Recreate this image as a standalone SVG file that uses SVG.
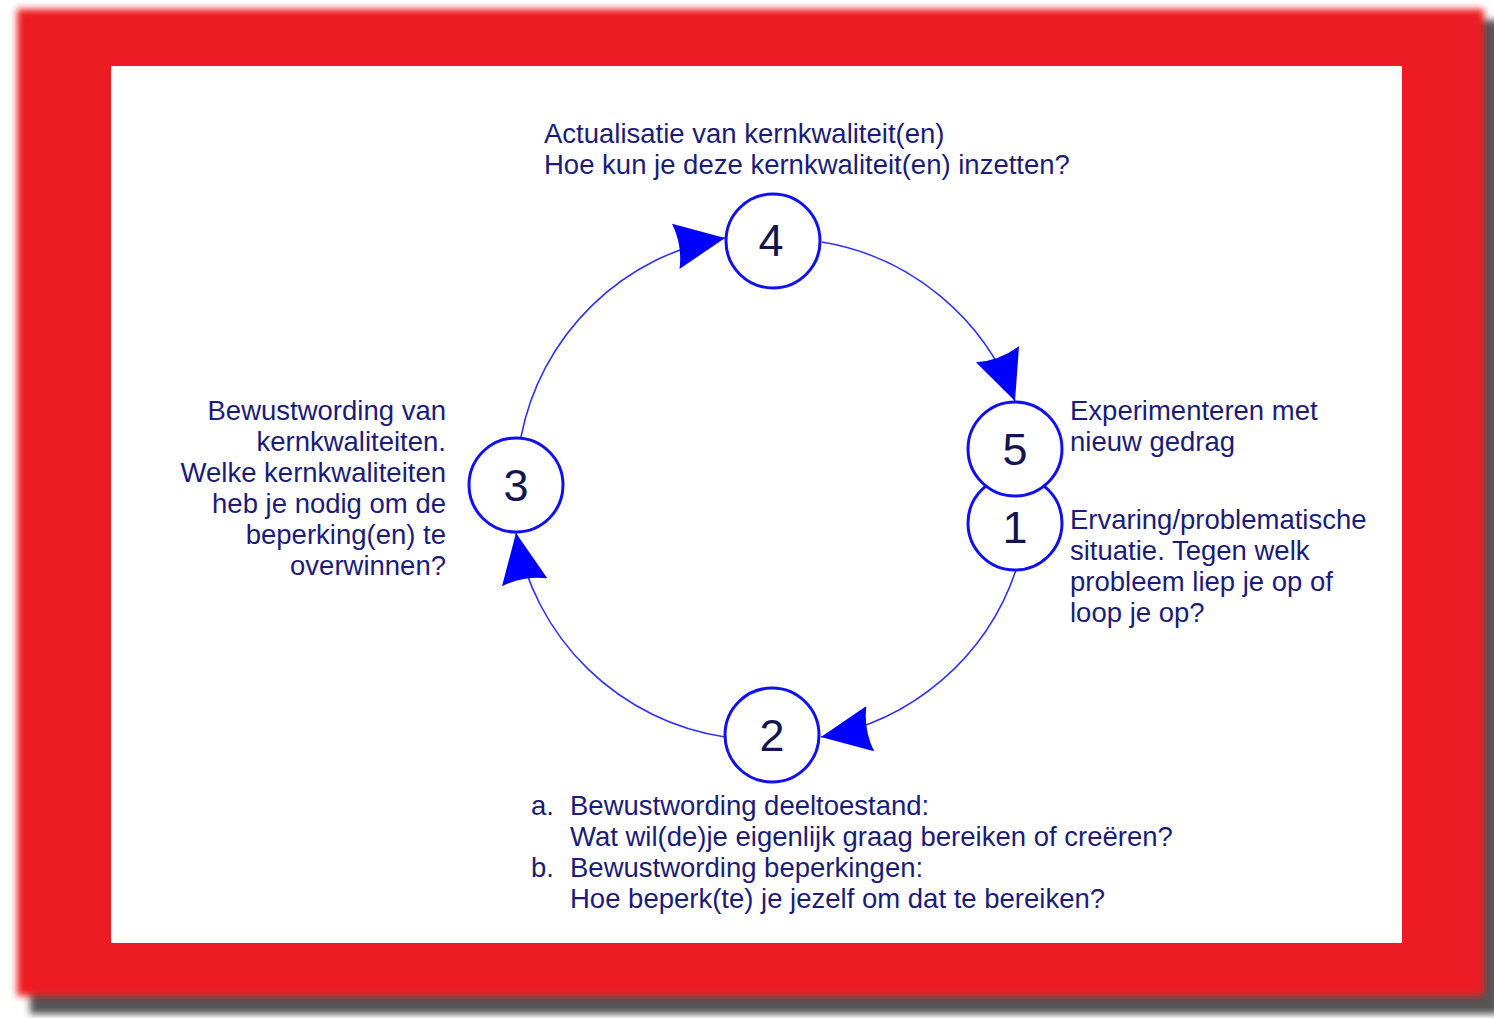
<svg xmlns="http://www.w3.org/2000/svg" width="1494" height="1018" viewBox="0 0 1494 1018">
<defs>
<style>
.t{font-family:"Liberation Sans",Arial,sans-serif;font-size:27.5px;fill:#1c1c78}
.n{font-family:"Liberation Sans",Arial,sans-serif;font-size:45px;fill:#141450;text-anchor:middle}
.node circle{fill:#fff;stroke:#1010f0;stroke-width:3}
.edge{fill:none;stroke:#3030ff;stroke-width:1.6}
</style>
<filter id="blur" x="-5%" y="-5%" width="110%" height="110%"><feGaussianBlur stdDeviation="3.5"/></filter>
<filter id="blur2" x="-5%" y="-5%" width="110%" height="110%"><feGaussianBlur stdDeviation="3.5"/></filter>
<marker id="arr" markerUnits="userSpaceOnUse" markerWidth="54" markerHeight="50" refX="50" refY="23" orient="auto" viewBox="0 0 54 50">
<path d="M0,0 L50,23 L0,46 Q7,23 0,0 z" fill="#0000ff"/>
</marker>
</defs>
<rect x="0" y="0" width="1494" height="1018" fill="#fff"/>
<rect x="30" y="20" width="1470" height="994" fill="#555" filter="url(#blur)"/>
<rect x="17" y="9" width="1467" height="987" fill="#ed1c24" filter="url(#blur2)"/>
<rect x="111" y="66" width="1291" height="877" fill="#fff"/>

<g id="connectors">
<path class="edge" d="M822,242 A250,250 0 0 1 1015,401" marker-end="url(#arr)"/>
<path class="edge" d="M1016,570 A250,250 0 0 1 821,737" marker-end="url(#arr)"/>
<path class="edge" d="M725,737 A250,250 0 0 1 516,533" marker-end="url(#arr)"/>
<path class="edge" d="M521,437 A250,250 0 0 1 725,238" marker-end="url(#arr)"/>
</g>

<g id="node1" class="node"><circle cx="1015" cy="523" r="47"/><text class="n" x="1015" y="543">1</text></g>
<g id="node5" class="node"><circle cx="1015" cy="449" r="47"/><text class="n" x="1015" y="465">5</text></g>
<g id="node4" class="node"><circle cx="773" cy="241" r="47"/><text class="n" x="771" y="256">4</text></g>
<g id="node3" class="node"><circle cx="516" cy="485" r="47"/><text class="n" x="516" y="501">3</text></g>
<g id="node2" class="node"><circle cx="772" cy="735" r="47"/><text class="n" x="772" y="751">2</text></g>

<g id="label4">
<text class="t" x="544" y="143">Actualisatie van kernkwaliteit(en)</text>
<text class="t" x="544" y="174">Hoe kun je deze kernkwaliteit(en) inzetten?</text>
</g>
<g id="label3" text-anchor="end">
<text class="t" x="446" y="420">Bewustwording van</text>
<text class="t" x="446" y="451">kernkwaliteiten.</text>
<text class="t" x="446" y="482">Welke kernkwaliteiten</text>
<text class="t" x="446" y="513">heb je nodig om de</text>
<text class="t" x="446" y="544">beperking(en) te</text>
<text class="t" x="446" y="575">overwinnen?</text>
</g>
<g id="label5">
<text class="t" x="1070" y="420">Experimenteren met</text>
<text class="t" x="1070" y="451">nieuw gedrag</text>
</g>
<g id="label1">
<text class="t" x="1070" y="529">Ervaring/problematische</text>
<text class="t" x="1070" y="560">situatie. Tegen welk</text>
<text class="t" x="1070" y="591">probleem liep je op of</text>
<text class="t" x="1070" y="622">loop je op?</text>
</g>
<g id="label2">
<text class="t" x="531" y="815">a.</text>
<text class="t" x="570" y="815">Bewustwording deeltoestand:</text>
<text class="t" x="570" y="846">Wat wil(de)je eigenlijk graag bereiken of creëren?</text>
<text class="t" x="531" y="877">b.</text>
<text class="t" x="570" y="877">Bewustwording beperkingen:</text>
<text class="t" x="570" y="908">Hoe beperk(te) je jezelf om dat te bereiken?</text>
</g>
</svg>
